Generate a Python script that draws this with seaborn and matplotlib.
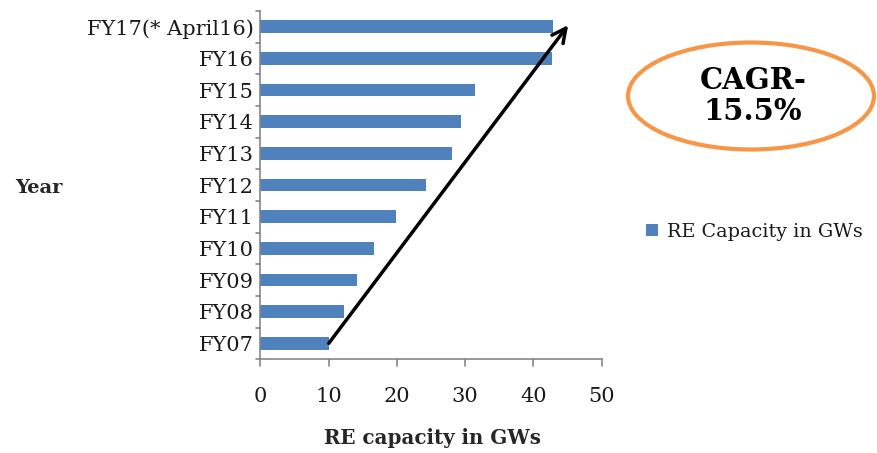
import seaborn as sns
import pandas as pd
import matplotlib.pyplot as plt
from matplotlib.patches import Ellipse

# data
years = ["FY17(* April16)", "FY16", "FY15", "FY14", "FY13", "FY12",
         "FY11", "FY10", "FY09", "FY08", "FY07"]
capacity = [42.9, 42.7, 31.5, 29.4, 28.0, 24.2, 19.8, 16.6, 14.2, 12.2, 10.1]
series_name = "RE Capacity in GWs"

df = pd.DataFrame({"year": years, "gw": capacity, "series": series_name})

sns.set_style("white")
plt.rcParams["font.family"] = ["DejaVu Serif"]

fig = plt.figure(figsize=(8.77, 4.53), dpi=100)
ax = fig.add_axes([0.297, 0.207, 0.389, 0.769])

sns.barplot(data=df, x="gw", y="year", hue="series", orient="h",
            palette=["#4F81BD"], saturation=1, width=0.4, linewidth=0,
            ax=ax, order=years)

ax.set_xlim(0, 50)
ax.set_xticks(range(0, 51, 10))
ax.set_ylim(len(years) - 0.5, -0.5)
ax.set_xlabel("")
ax.set_ylabel("")
ax.tick_params(axis="both", labelsize=15, colors="#1a1a1a", length=0)
ax.tick_params(axis="y", pad=5)
ax.tick_params(axis="x", pad=20)
for s in ["top", "right"]:
    ax.spines[s].set_visible(False)
for s in ["left", "bottom"]:
    ax.spines[s].set_color("#868686")
    ax.spines[s].set_linewidth(1.2)

# small tick marks at category borders / x majors
for i in range(len(years) + 1):
    ax.plot([-0.7, 0], [i - 0.5, i - 0.5], color="#868686", lw=1.2, clip_on=False)
for v in range(0, 51, 10):
    ax.plot([v, v], [len(years) - 0.5, len(years) - 0.5 + 0.2], color="#868686",
            lw=1.2, clip_on=False)

fig.text(0.017, 0.585, "Year", fontsize=14, fontweight="bold", va="center")
fig.text(0.493, 0.033, "RE capacity in GWs", fontsize=14.3, fontweight="bold",
         ha="center", va="center")

# growth arrow
ax.annotate("", xy=(45.1, -0.05), xytext=(10.0, 10.0),
            arrowprops=dict(arrowstyle="->", color="black", lw=2.5,
                            mutation_scale=25, shrinkA=0, shrinkB=0),
            annotation_clip=False)

# CAGR ellipse
ell = Ellipse((751 / 877, 1 - 96 / 453), 246 / 877, 107 / 453,
              transform=fig.transFigure, fill=False, edgecolor="#F79646", lw=3)
fig.add_artist(ell)
fig.text(753 / 877, 1 - 96 / 453, "CAGR-\n15.5%", fontsize=21, fontweight="bold",
         ha="center", va="center", linespacing=1.1, color="black")

leg = ax.legend(loc="center left", bbox_to_anchor=(646 / 877, 1 - 232 / 453),
                bbox_transform=fig.transFigure, frameon=False, fontsize=13.8,
                borderpad=0, borderaxespad=0,
                handlelength=0.6, handleheight=0.6, handletextpad=0.5)
for t in leg.get_texts():
    t.set_color("#1a1a1a")

fig.savefig("out.png", dpi=100)
